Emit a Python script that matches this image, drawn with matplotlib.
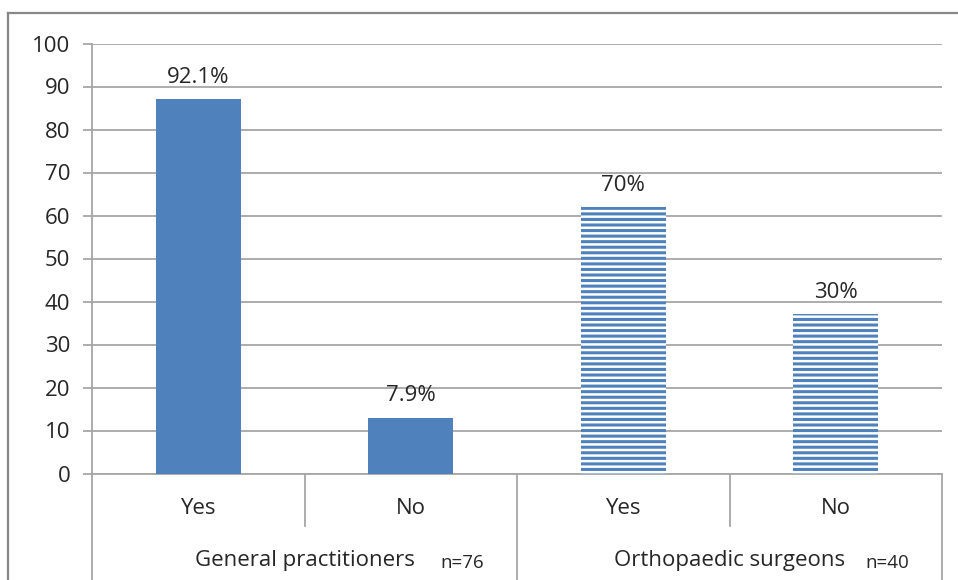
import matplotlib
matplotlib.use("Agg")
import matplotlib.pyplot as plt
from matplotlib.lines import Line2D

# data
answers = ["Yes", "No", "Yes", "No"]
bar_heights = [87, 13, 62, 37]
bar_labels = ["92.1%", "7.9%", "70%", "30%"]
groups = ["General practitioners", "Orthopaedic surgeons"]
group_n = ["n=76", "n=40"]
yticks = [0, 10, 20, 30, 40, 50, 60, 70, 80, 90, 100]

BLUE = "#4F81BD"
GRID = "#A6A6A6"
TXT = "#262626"

plt.rcParams["font.family"] = ["Open Sans", "DejaVu Sans"]
plt.rcParams["hatch.linewidth"] = 2.2
plt.rcParams["hatch.color"] = BLUE

fig = plt.figure(figsize=(9.58, 5.8), dpi=100)
ax = fig.add_axes([92 / 958, 1 - 473.5 / 580, 850 / 958, 430 / 580])

x = list(range(len(answers)))
# GPs: solid bars, surgeons: horizontal stripes
ax.bar(x[:2], bar_heights[:2], width=0.4, color=BLUE, zorder=3)
ax.bar(x[2:], bar_heights[2:], width=0.4, facecolor="white", edgecolor=BLUE,
       linewidth=0, hatch="---", zorder=3)

for xi, h, lab in zip(x, bar_heights, bar_labels):
    ax.annotate(lab, (xi, h), xytext=(0, 8), textcoords="offset points",
                ha="center", va="bottom", fontsize=16, color=TXT)

ax.set_xlim(-0.5, 3.5)
ax.set_ylim(0, 100)
ax.set_yticks(yticks)
ax.tick_params(axis="y", labelsize=16, labelcolor=TXT, length=6.5, color=GRID, width=1.3, pad=9)
ax.set_xticks([])
ax.yaxis.grid(True, color=GRID, linewidth=1.3)
ax.set_axisbelow(True)
for side in ["top", "right"]:
    ax.spines[side].set_visible(False)
for side in ["left", "bottom"]:
    ax.spines[side].set_color(GRID)
    ax.spines[side].set_linewidth(1.3)

# two-level category axis below the plot
tr = ax.get_xaxis_transform()
for xi, lab in zip(x, answers):
    ax.text(xi, -0.082, lab, transform=tr, ha="center", va="center", fontsize=16, color=TXT)
for gi, (g, n) in enumerate(zip(groups, group_n)):
    cx = 2 * gi + 0.5
    ax.text(cx, -0.203, g, transform=tr, ha="center", va="center", fontsize=16, color=TXT)
    ax.text(cx + 0.64, -0.208, n, transform=tr, ha="left", va="center", fontsize=13.5, color=TXT)
for xs in [-0.5, 1.5, 3.5]:
    ax.plot([xs, xs], [0, -0.26], transform=tr, color=GRID, linewidth=1.3, clip_on=False)
for xs in [0.5, 2.5]:
    ax.plot([xs, xs], [0, -0.121], transform=tr, color=GRID, linewidth=1.3, clip_on=False)

# chart frame (top and left edges visible in the crop)
fig.add_artist(Line2D([8 / 958, 1], [1 - 13 / 580, 1 - 13 / 580], color="#878787", linewidth=1.6))
fig.add_artist(Line2D([8 / 958, 8 / 958], [0, 1 - 13 / 580], color="#878787", linewidth=1.6))

fig.savefig("out.png", dpi=100)
